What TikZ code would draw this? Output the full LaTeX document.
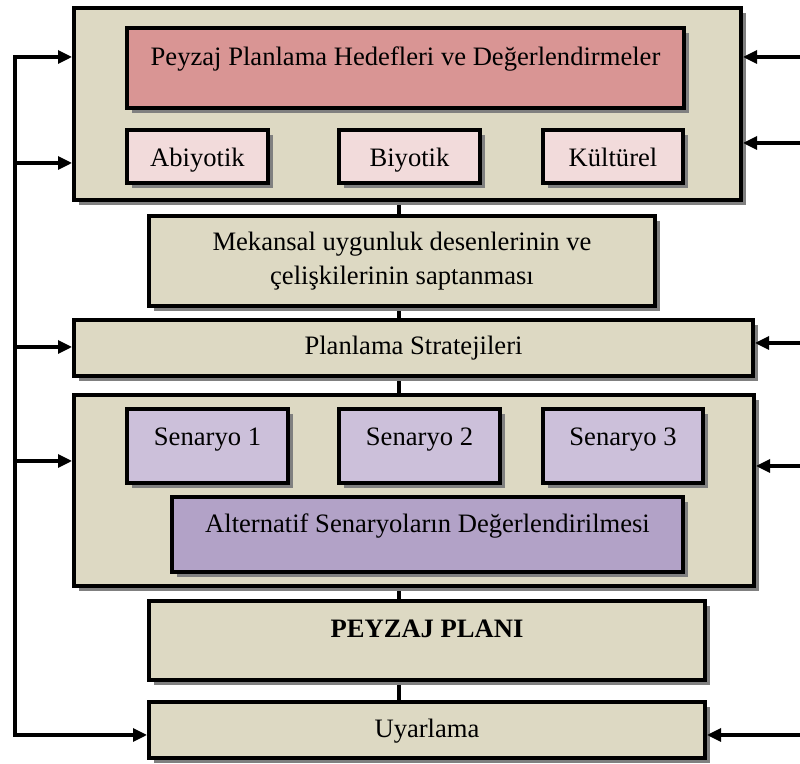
\documentclass[tikz,border=0pt]{standalone}
\usepackage{fontspec}
\setmainfont{Liberation Serif}
\usetikzlibrary{
    arrows.meta,
    shadows,
    backgrounds
}
\definecolor{tan}{HTML}{DDD9C3}
\definecolor{rose}{HTML}{D99594}
\definecolor{blush}{HTML}{F2DBDB}
\definecolor{lilac}{HTML}{CCC0DA}
\definecolor{mauve}{HTML}{B2A2C7}
\tikzset {
    box/.style = {
        draw, line width = 2pt, fill = #1, inner sep = 0pt, align = center,
        font = \fontsize{13.3}{17}\selectfont,
        drop shadow = {shadow xshift = 2.5pt, shadow yshift = -2.5pt,
                       fill = black!50, opacity = 1}
    },
    box/.default = tan,
    dims/.style 2 args = {minimum width = #1*0.5pt, minimum height = #2*0.5pt},
    raised/.style = {text height = 9pt, text depth = #1},
    lowered/.style = {text height = #1, text depth = 3pt},
    link/.style = {line width = 2pt},
    bus/.style = {line width = 1.6pt},
    arr/.style = {line width = 1.6pt, -{Triangle[length = 7pt, width = 6.5pt]}}
}

\begin{document}
\begin{tikzpicture}[x = 0.5pt, y = -0.5pt]
    \useasboundingbox (0, 0) rectangle (800, 764);
    % outer frames
    \node (plan) [box, dims = {667}{192}] at (407.5, 104) {};
    \node (hedef) [box = rose, dims = {557}{80}, raised = 11.5pt] at (405.5, 68)
        {Peyzaj Planlama Hedefleri ve Değerlendirmeler};
    \node (abiyotik) [box = blush, dims = {141}{53}, lowered = 13pt] at (197.5, 156.5) {Abiyotik};
    \node (biyotik) [box = blush, dims = {141}{53}, lowered = 13pt] at (409.5, 156.5) {Biyotik};
    \node (kultur) [box = blush, dims = {140}{53}, lowered = 13pt] at (613, 156.5) {Kültürel};
    \node (mekansal) [box, dims = {506}{90}] at (402, 261)
        {Mekansal uygunluk desenlerinin ve\\çelişkilerinin saptanması};
    \node (strateji) [box, dims = {679}{56}, lowered = 10pt] at (413.5, 348) {Planlama Stratejileri};
    \node (senaryo) [box, dims = {680}{191}] at (414, 490.5) {};
    \node (s1) [box = lilac, dims = {161}{74}, raised = 9.5pt] at (207.5, 446) {Senaryo 1};
    \node (s2) [box = lilac, dims = {161}{74}, raised = 9.5pt] at (419.5, 446) {Senaryo 2};
    \node (s3) [box = lilac, dims = {160}{74}, raised = 9.5pt] at (623, 446) {Senaryo 3};
    \node (alternatif) [box = mauve, dims = {511}{75}, raised = 10.5pt] at (427.5, 534.5)
        {Alternatif Senaryoların Değerlendirilmesi};
    \node (plani) [box, dims = {556}{79}, raised = 12pt] at (427, 640.5)
        {\textbf{PEYZAJ PLANI}};
    \node (uyarlama) [box, dims = {556}{56}, lowered = 11pt] at (427, 730) {Uyarlama};

    % vertical links
    \coordinate (spine) at (399, 0);
    \begin{scope}[on background layer]
        \foreach \a/\b in {plan/mekansal, mekansal/strateji, strateji/senaryo,
                           senaryo/plani, plani/uyarlama}
            \draw [link] (spine |- \a.south) -- (spine |- \b.north);
    \end{scope}

    % feedback on the left
    \coordinate (l1) at (15, 57);
    \coordinate (l2) at (15, 163);
    \coordinate (l3) at (15, 347);
    \coordinate (l4) at (15, 461);
    \coordinate (l5) at (15, 735);
    \draw [bus, line cap = rect] (l1) -- (l5);
    \draw [arr] (l1) -- (l1 -| plan.west);
    \draw [arr] (l2) -- (l2 -| plan.west);
    \draw [arr] (l3) -- (l3 -| strateji.west);
    \draw [arr] (l4) -- (l4 -| senaryo.west);
    \draw [arr] (l5) -- (l5 -| uyarlama.west);

    % inputs on the right
    \coordinate (r1) at (800, 57);
    \coordinate (r2) at (800, 143);
    \coordinate (r3) at (800, 343);
    \coordinate (r4) at (800, 466);
    \coordinate (r5) at (800, 735);
    \draw [arr] (r1) -- (r1 -| plan.east);
    \draw [arr] (r2) -- (r2 -| plan.east);
    \draw [arr] (r3) -- (r3 -| strateji.east);
    \draw [arr] (r4) -- (r4 -| senaryo.east);
    \draw [arr] (r5) -- (r5 -| uyarlama.east);
\end{tikzpicture}
\end{document}
